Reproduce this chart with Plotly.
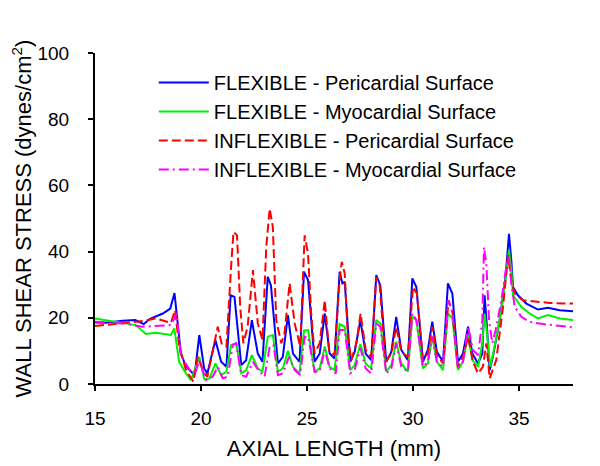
import plotly.graph_objects as go

# ---- data ----
flex_peri_x = [15.0, 15.5, 16.3, 16.9, 17.3, 17.6, 18.2, 18.55, 18.75, 18.9, 19.05, 19.3, 19.7, 19.92, 20.15, 20.3, 20.68, 20.95, 21.2, 21.4, 21.58, 21.9, 22.13, 22.4, 22.68, 22.9, 23.15, 23.3, 23.63, 23.86, 24.1, 24.34, 24.65, 24.86, 25.05, 25.36, 25.6, 25.84, 26.07, 26.3, 26.54, 26.67, 26.78, 27.04, 27.25, 27.52, 27.77, 28.03, 28.27, 28.46, 28.74, 28.98, 29.21, 29.45, 29.76, 29.97, 30.16, 30.47, 30.7, 30.91, 31.13, 31.42, 31.65, 31.86, 32.12, 32.36, 32.6, 32.8, 33.07, 33.27, 33.38, 33.49, 33.62, 33.77, 34.09, 34.37, 34.53, 34.64, 34.72, 34.95, 35.35, 35.9, 36.37, 36.92, 37.55]
flex_peri_y = [18.6, 18.5, 19.1, 19.3, 18.1, 19.7, 21.3, 22.8, 27.5, 17.3, 9.2, 5.2, 2.7, 14.8, 4.7, 3.2, 13.3, 6.7, 5.2, 26.8, 26.3, 5.7, 7.2, 19.3, 9.2, 6.7, 32.4, 29.8, 6.2, 8.2, 20.8, 9.2, 6.7, 33.9, 31.4, 6.7, 9.2, 21.3, 9.2, 7.7, 33.9, 30.4, 30.9, 6.7, 9.7, 19.3, 9.2, 7.2, 32.9, 29.8, 6.7, 9.7, 20.3, 10.3, 7.2, 31.9, 29.3, 6.7, 10.3, 18.8, 9.7, 6.7, 30.4, 27.3, 6.7, 9.2, 17.3, 9.2, 6.2, 9.2, 26.8, 17.3, 4.2, 8.2, 19.3, 32.4, 45.4, 37.4, 29.3, 26.8, 24.3, 22.5, 23.0, 22.3, 22.0]

flex_myo_x = [15.0, 16.3, 16.92, 17.4, 17.87, 18.58, 18.74, 18.97, 19.29, 19.53, 19.92, 20.16, 20.4, 20.68, 20.95, 21.2, 21.42, 21.66, 21.9, 22.13, 22.4, 22.68, 22.9, 23.15, 23.39, 23.63, 23.86, 24.1, 24.34, 24.65, 24.86, 25.05, 25.36, 25.6, 25.84, 26.07, 26.3, 26.54, 26.78, 27.04, 27.25, 27.52, 27.77, 28.03, 28.27, 28.46, 28.74, 28.98, 29.21, 29.45, 29.76, 29.97, 30.16, 30.47, 30.7, 30.91, 31.13, 31.42, 31.65, 31.86, 32.12, 32.36, 32.6, 32.8, 33.07, 33.27, 33.38, 33.49, 33.65, 33.85, 34.17, 34.4, 34.53, 34.64, 34.72, 35.11, 35.5, 35.9, 36.37, 36.92, 37.55]
flex_myo_y = [19.8, 18.5, 17.8, 15.1, 15.5, 14.8, 16.8, 6.7, 3.2, 1.2, 8.2, 1.4, 1.7, 6.2, 2.7, 3.7, 11.8, 12.3, 3.2, 4.2, 8.7, 4.7, 3.7, 14.3, 14.8, 3.7, 4.7, 10.0, 5.2, 3.2, 16.1, 16.3, 3.7, 4.7, 11.3, 5.2, 4.2, 18.1, 17.3, 4.2, 5.7, 12.1, 6.2, 4.7, 19.3, 18.3, 3.7, 5.7, 12.8, 6.2, 3.7, 20.3, 19.3, 4.7, 6.2, 14.3, 6.7, 4.2, 21.3, 19.8, 4.2, 6.7, 14.8, 7.2, 5.2, 12.3, 21.3, 15.3, 5.2, 11.3, 22.3, 33.4, 40.4, 34.4, 26.8, 23.3, 21.3, 19.8, 20.8, 19.8, 19.3]

inflex_peri_x = [15.0, 16.3, 17.32, 17.87, 18.58, 18.78, 18.97, 19.29, 19.64, 19.84, 20.16, 20.3, 20.58, 20.79, 20.99, 21.2, 21.42, 21.53, 21.7, 21.85, 22.0, 22.2, 22.45, 22.68, 22.9, 23.08, 23.24, 23.39, 23.55, 23.79, 23.94, 24.18, 24.42, 24.68, 24.89, 25.05, 25.2, 25.36, 25.6, 25.84, 26.04, 26.3, 26.54, 26.64, 26.78, 26.93, 27.09, 27.33, 27.53, 27.77, 28.03, 28.27, 28.43, 28.71, 28.98, 29.21, 29.45, 29.76, 30.0, 30.19, 30.47, 30.7, 30.91, 31.13, 31.42, 31.68, 31.86, 32.12, 32.36, 32.6, 32.83, 33.07, 33.3, 33.46, 33.62, 33.93, 34.25, 34.48, 34.64, 34.8, 35.19, 35.82, 36.45, 37.08, 37.55]
inflex_peri_y = [17.5, 18.5, 19.1, 19.8, 18.5, 22.3, 11.3, 4.2, 0.7, 8.2, 3.2, 2.2, 11.3, 17.3, 11.8, 11.3, 35.4, 45.9, 44.9, 23.3, 12.3, 17.3, 34.4, 18.3, 13.3, 41.4, 53.0, 47.4, 19.3, 12.3, 15.3, 30.4, 18.3, 11.3, 44.9, 39.4, 21.3, 9.2, 12.3, 25.3, 10.3, 8.7, 31.4, 36.9, 33.4, 14.3, 7.2, 12.3, 21.3, 10.3, 8.2, 32.4, 29.8, 6.7, 9.2, 17.3, 9.7, 8.2, 29.3, 27.3, 7.2, 9.2, 17.3, 8.7, 6.2, 25.3, 21.8, 5.2, 8.2, 14.3, 6.7, 3.2, 5.2, 12.3, 1.7, 7.2, 23.3, 38.9, 31.4, 27.3, 25.3, 24.8, 24.5, 24.3, 24.3]

inflex_myo_x = [15.0, 16.3, 17.24, 17.87, 18.58, 18.85, 19.05, 19.37, 19.68, 19.92, 20.24, 20.55, 20.79, 21.03, 21.26, 21.5, 21.66, 21.9, 22.13, 22.45, 22.76, 23.0, 23.24, 23.42, 23.63, 23.86, 24.15, 24.42, 24.68, 24.89, 25.05, 25.36, 25.6, 25.84, 26.07, 26.36, 26.54, 26.78, 27.04, 27.25, 27.52, 27.77, 28.03, 28.27, 28.46, 28.74, 28.98, 29.21, 29.45, 29.76, 29.97, 30.16, 30.47, 30.7, 30.91, 31.13, 31.42, 31.65, 31.86, 32.12, 32.36, 32.6, 32.83, 33.07, 33.27, 33.35, 33.46, 33.59, 33.74, 33.9, 34.17, 34.4, 34.53, 34.64, 34.8, 35.11, 35.5, 36.13, 36.92, 37.55]
inflex_myo_y = [18.8, 18.3, 17.3, 17.5, 17.8, 21.3, 8.7, 5.2, 2.2, 7.2, 1.2, 2.2, 5.2, 1.7, 2.2, 11.8, 12.3, 2.7, 2.2, 6.7, 3.7, 2.2, 11.3, 11.8, 2.7, 3.2, 8.2, 4.2, 2.7, 14.3, 14.3, 3.7, 3.7, 10.3, 4.7, 3.2, 16.3, 16.3, 3.2, 4.2, 10.8, 4.7, 3.2, 18.3, 17.3, 3.2, 4.7, 12.3, 5.2, 3.7, 21.3, 19.3, 5.2, 6.7, 14.3, 6.7, 5.2, 25.3, 21.8, 4.7, 6.7, 17.3, 10.3, 8.7, 19.3, 41.4, 36.4, 19.3, 12.3, 16.3, 25.3, 35.4, 38.4, 30.4, 23.3, 20.3, 18.8, 18.1, 17.5, 17.1]

series_names = ["FLEXIBLE - Pericardial Surface", "FLEXIBLE - Myocardial Surface",
                "INFLEXIBLE - Pericardial Surface", "INFLEXIBLE - Myocardial Surface"]
x_ticks = [15, 20, 25, 30, 35]
y_ticks = [0, 20, 40, 60, 80, 100]

FONT = "Liberation Sans, Arial, sans-serif"

fig = go.Figure()
specs = [
    (flex_peri_x, flex_peri_y, "#0000FF", "solid"),
    (flex_myo_x, flex_myo_y, "#00F000", "solid"),
    (inflex_peri_x, inflex_peri_y, "#FF0000", "9px,4px"),
    (inflex_myo_x, inflex_myo_y, "#FF00FF", "10px,4px,2px,4px"),
]
for name, (xs, ys, col, dash) in zip(series_names, specs):
    fig.add_trace(go.Scatter(x=xs, y=ys, mode="lines", name=name,
                             line=dict(color=col, width=2, dash=dash)))

# the page body adds an 8px offset, so the figure is 592x458
fig.update_layout(
    width=592, height=458,
    margin=dict(l=87, r=27, t=45, b=82),
    paper_bgcolor="white", plot_bgcolor="white",
    font=dict(family=FONT, color="black"),
    showlegend=True,
    legend=dict(x=0.123, y=0.97, xanchor="left", yanchor="top",
                font=dict(size=20, family=FONT, color="black"),
                bgcolor="rgba(0,0,0,0)", itemwidth=50, tracegroupgap=0),
    xaxis=dict(range=[15, 37.55], tickvals=x_ticks, showgrid=False, zeroline=False,
               showline=True, linecolor="black", linewidth=2, automargin=False,
               ticks="outside", ticklen=5, tickwidth=2, tickcolor="black",
               tickfont=dict(size=19), ticklabelstandoff=11,
               title=dict(text="AXIAL LENGTH (mm)", font=dict(size=22), standoff=13)),
    yaxis=dict(range=[0, 100], tickvals=y_ticks, showgrid=False, zeroline=False,
               showline=True, linecolor="black", linewidth=2, automargin=False,
               ticks="outside", ticklen=5, tickwidth=2, tickcolor="black",
               tickfont=dict(size=19), ticklabelstandoff=15,
               title=dict(text="WALL SHEAR STRESS (dynes/cm<sup>2</sup>)",
                          font=dict(size=22), standoff=11)),
)

fig.write_html("out.html")
